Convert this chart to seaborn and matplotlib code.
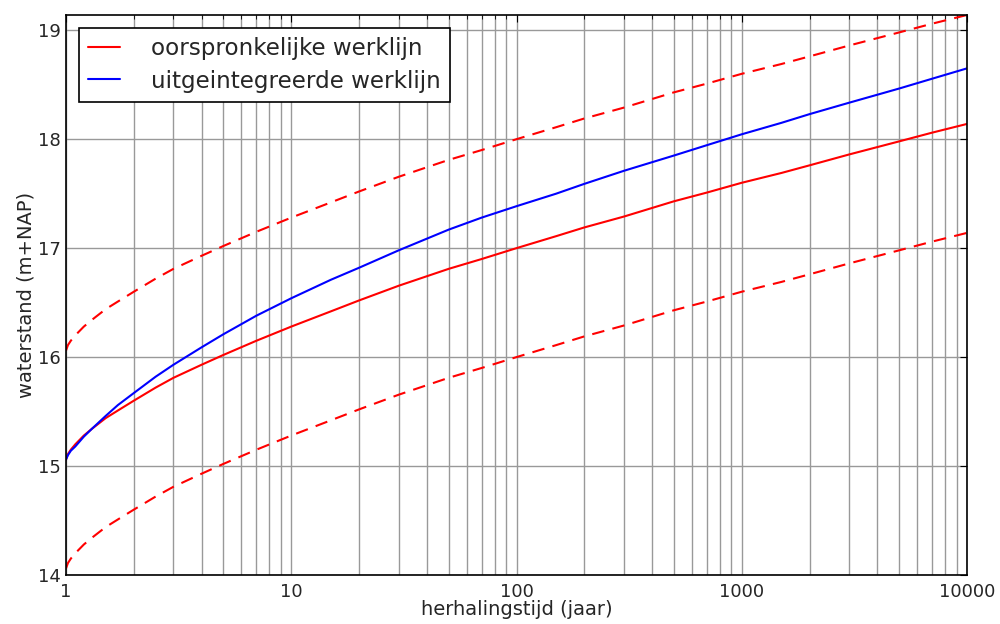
import numpy as np
import pandas as pd
import matplotlib
matplotlib.use('Agg')
import matplotlib.pyplot as plt
import seaborn as sns

# Data
herhalingstijd = [1, 1.02, 1.05, 1.1, 1.2, 1.3, 1.5, 1.7, 2, 2.5, 3, 4, 5, 7,
                  10, 15, 20, 30, 50, 70, 100, 150, 200, 300, 500, 700,
                  1000, 1500, 2000, 3000, 5000, 7000, 10000]
oorspronkelijk = [15.06, 15.11, 15.15, 15.20, 15.28, 15.34, 15.44, 15.51, 15.60,
                  15.72, 15.81, 15.93, 16.02, 16.15, 16.28, 16.42, 16.52, 16.655,
                  16.81, 16.90, 17.00, 17.11, 17.19, 17.29, 17.43, 17.51, 17.60,
                  17.69, 17.76, 17.86, 17.98, 18.06, 18.14]
boven = [16.06, 16.11, 16.15, 16.20, 16.28, 16.34, 16.44, 16.51, 16.60,
         16.72, 16.81, 16.93, 17.02, 17.15, 17.28, 17.42, 17.52, 17.655,
         17.81, 17.90, 18.00, 18.11, 18.19, 18.29, 18.43, 18.51, 18.60,
         18.69, 18.76, 18.86, 18.98, 19.06, 19.14]
onder = [14.06, 14.11, 14.15, 14.20, 14.28, 14.34, 14.44, 14.51, 14.60,
         14.72, 14.81, 14.93, 15.02, 15.15, 15.28, 15.42, 15.52, 15.655,
         15.81, 15.90, 16.00, 16.11, 16.19, 16.29, 16.43, 16.51, 16.60,
         16.69, 16.76, 16.86, 16.98, 17.06, 17.14]
uitgeintegreerd = [15.06, 15.10, 15.14, 15.18, 15.27, 15.34, 15.46, 15.56, 15.67,
                   15.82, 15.93, 16.09, 16.21, 16.38, 16.54, 16.71, 16.82, 16.98,
                   17.17, 17.28, 17.385, 17.50, 17.59, 17.71, 17.85, 17.945, 18.045,
                   18.15, 18.23, 18.335, 18.465, 18.555, 18.65]
xticks = [1, 10, 100, 1000, 10000]
xtick_labels = ['1', '10', '100', '1000', '10000']
yticks = [14, 15, 16, 17, 18, 19]

df = pd.DataFrame({'T': herhalingstijd, 'orig': oorspronkelijk, 'boven': boven,
                   'onder': onder, 'uit': uitgeintegreerd})

sns.set_style('white')
plt.rcParams['font.family'] = ['DejaVu Sans']

fig = plt.figure(figsize=(10, 6.24), dpi=100)
ax = fig.add_axes([0.066, 0.0785, 0.901, 0.8975])

sns.lineplot(data=df, x='T', y='orig', color='red', lw=1.5, ax=ax,
             label='oorspronkelijke werklijn')
sns.lineplot(data=df, x='T', y='uit', color='blue', lw=1.5, ax=ax,
             label='uitgeintegreerde werklijn')
sns.lineplot(data=df, x='T', y='boven', color='red', lw=1.5, ax=ax,
             dashes=False, linestyle=(0, (6, 4)))
sns.lineplot(data=df, x='T', y='onder', color='red', lw=1.5, ax=ax,
             dashes=False, linestyle=(0, (6, 4)))

ax.set_xscale('log')
ax.set_xlim(1, 10000)
ax.set_ylim(14, 19.14)
ax.set_xticks(xticks)
ax.set_xticklabels(xtick_labels)
ax.set_yticks(yticks)

ax.grid(True, which='major', axis='both', color='#999999', lw=1)
ax.grid(True, which='minor', axis='x', color='#999999', lw=1)
ax.tick_params(which='both', direction='in', top=True, right=True,
               labelsize=13, length=5, color='black')
ax.tick_params(which='minor', length=3)
ax.tick_params(axis='x', pad=6)
for s in ax.spines.values():
    s.set_color('black')
    s.set_linewidth(1.2)

ax.set_xlabel('herhalingstijd (jaar)', fontsize=14, labelpad=-1)
ax.set_ylabel('waterstand (m+NAP)', fontsize=14, labelpad=2)

leg = ax.legend(loc='upper left', fontsize=16.6, fancybox=False, framealpha=1,
                edgecolor='black', handlelength=1.4, borderaxespad=0.55,
                handletextpad=1.35, borderpad=0.4, labelspacing=0.42)
leg.get_frame().set_linewidth(1.2)

fig.savefig('out.png', dpi=100)
